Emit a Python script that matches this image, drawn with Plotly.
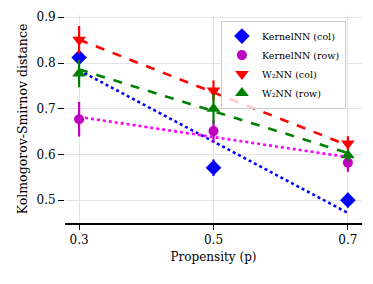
import plotly.graph_objects as go

# Data
propensity = [0.3, 0.5, 0.7]

kernel_col = [0.812, 0.571, 0.500]
kernel_col_err = [0.012, 0.018, 0.016]
kernel_row = [0.677, 0.651, 0.582]
kernel_row_err = [0.038, 0.025, 0.020]
w2_col = [0.851, 0.740, 0.624]
w2_col_err = [0.030, 0.022, 0.016]
w2_row = [0.777, 0.700, 0.598]
w2_row_err = [0.030, 0.033, 0.012]

# Linear trend lines (endpoints at p=0.3 and p=0.7)
trend_x = [0.3, 0.7]
kernel_col_trend = [0.784, 0.472]
kernel_row_trend = [0.682, 0.594]
w2_col_trend = [0.851, 0.620]
w2_row_trend = [0.786, 0.603]

tick_vals_x = [0.3, 0.5, 0.7]
tick_text_x = ["0.3", "0.5", "0.7"]
tick_vals_y = [0.5, 0.6, 0.7, 0.8, 0.9]
tick_text_y = ["0.5", "0.6", "0.7", "0.8", "0.9"]

FONT = "DejaVu Serif"

fig = go.Figure()

# trend lines (not in legend)
for ys, color, dash in [
    (kernel_col_trend, "#0000ff", "dot"),
    (kernel_row_trend, "#ff00ff", "dot"),
    (w2_col_trend, "#ff0000", "dash"),
    (w2_row_trend, "#008000", "dash"),
]:
    fig.add_trace(go.Scatter(x=trend_x, y=ys, mode="lines", showlegend=False,
                             line=dict(color=color, width=2.6, dash=dash),
                             hoverinfo="skip"))

series = [
    ("KernelNN (col)", kernel_col, kernel_col_err, "#0000ff", "diamond", 12),
    ("KernelNN (row)", kernel_row, kernel_row_err, "#bf00bf", "circle", 10),
    ("W₂NN (col)", w2_col, w2_col_err, "#ff0000", "triangle-down", 12),
    ("W₂NN (row)", w2_row, w2_row_err, "#008000", "triangle-up", 12),
]
for name, ys, err, color, sym, size in series:
    fig.add_trace(go.Scatter(
        x=propensity, y=ys, mode="markers", name=name,
        marker=dict(color=color, symbol=sym, size=size, line=dict(width=0)),
        error_y=dict(type="data", array=err, visible=True, color=color,
                     thickness=2.2, width=0),
    ))

fig.update_layout(
    width=373, height=284,
    margin=dict(l=65, r=11, t=15, b=61),
    paper_bgcolor="white", plot_bgcolor="white",
    font=dict(family=FONT, size=11, color="black"),
    legend=dict(x=0.525, y=0.973, xanchor="left", yanchor="top",
                bgcolor="rgba(255,255,255,0.8)", bordercolor="#cccccc",
                borderwidth=1, font=dict(family=FONT, size=9.5),
                tracegroupgap=0, itemwidth=30),
)
fig.update_xaxes(
    range=[0.279, 0.721], tickvals=tick_vals_x, ticktext=tick_text_x,
    showgrid=True, gridcolor="#e3e3e3", gridwidth=1,
    showline=True, linecolor="black", linewidth=1.5,
    ticks="outside", ticklen=5, tickwidth=1.2, tickcolor="black",
    zeroline=False,
    title=dict(text="Propensity (p)", font=dict(family=FONT, size=12), standoff=6),
    tickfont=dict(family=FONT, size=12),
)
fig.update_yaxes(
    range=[0.45, 0.905], tickvals=tick_vals_y, ticktext=tick_text_y,
    showgrid=True, gridcolor="#e3e3e3", gridwidth=1,
    showline=False, ticks="outside", ticklen=6, tickwidth=1.2, tickcolor="black",
    zeroline=False,
    title=dict(text="Kolmogorov-Smirnov distance", font=dict(family=FONT, size=12.5), standoff=6),
    tickfont=dict(family=FONT, size=12),
)

fig.write_html("out.html", config={"displayModeBar": False},
               post_script="document.body.style.margin='0';")
